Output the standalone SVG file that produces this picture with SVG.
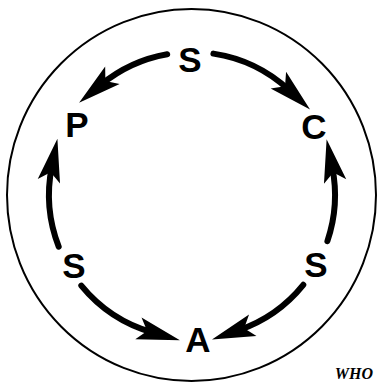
<svg xmlns="http://www.w3.org/2000/svg" width="377" height="383" viewBox="0 0 377 383">
<style>
.lbl{font-family:"Liberation Sans",Arial,sans-serif;font-weight:bold;font-size:35px;fill:#000;text-anchor:middle}
.arc{fill:none;stroke:#000;stroke-width:6;stroke-linecap:round}
.who{font-family:"Liberation Serif","Times New Roman",serif;font-style:italic;font-weight:bold;font-size:16px;fill:#000;text-anchor:end}
</style>
<defs>
<marker id="ah" markerUnits="userSpaceOnUse" markerWidth="50" markerHeight="30" viewBox="-2 -12 44 24" refX="13" refY="0" orient="auto" overflow="visible">
<path d="M0,-10 L38,0 L0,10 L8,0 Z" fill="#000"/>
</marker>
</defs>
<rect width="377" height="383" fill="#fff"/>
<ellipse id="outer" cx="191.5" cy="195" rx="184.5" ry="186" fill="none" stroke="#000" stroke-width="2"/>
<g id="connectors">
<path class="arc" d="M167.2,54.2 A143,143 0 0 0 101.0,84.7" marker-end="url(#ah)"/>
<path class="arc" d="M213.4,53.6 A143,143 0 0 1 289.2,90.1" marker-end="url(#ah)"/>
<path class="arc" d="M58.7,246.7 A143,143 0 0 1 51.8,166.7" marker-end="url(#ah)"/>
<path class="arc" d="M327.4,241.1 A143,143 0 0 0 332.2,167.0" marker-end="url(#ah)"/>
<path class="arc" d="M81.3,285.6 A143,143 0 0 0 152.6,332.5" marker-end="url(#ah)"/>
<path class="arc" d="M303.3,284.8 A143,143 0 0 1 238.8,330.1" marker-end="url(#ah)"/>
</g>
<g id="node-S-top"><text class="lbl" x="190" y="72">S</text></g>
<g id="node-P"><text class="lbl" x="77" y="137">P</text></g>
<g id="node-C"><text class="lbl" x="314" y="139">C</text></g>
<g id="node-S-left"><text class="lbl" x="74" y="278">S</text></g>
<g id="node-S-right"><text class="lbl" x="316" y="277">S</text></g>
<g id="node-A"><text class="lbl" x="198" y="352">A</text></g>
<text class="who" x="373" y="379">WHO</text>
</svg>
